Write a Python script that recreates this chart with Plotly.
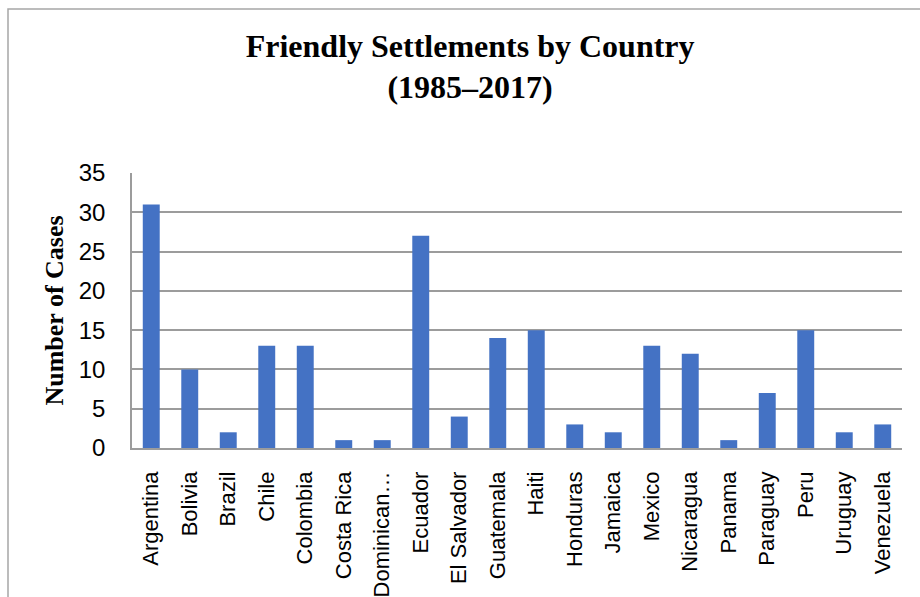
import plotly.graph_objects as go

countries = ["Argentina", "Bolivia", "Brazil", "Chile", "Colombia", "Costa Rica",
             "Dominican…", "Ecuador", "El Salvador", "Guatemala", "Haiti", "Honduras",
             "Jamaica", "Mexico", "Nicaragua", "Panama", "Paraguay", "Peru",
             "Uruguay", "Venezuela"]
cases = [31, 10, 2, 13, 13, 1, 1, 27, 4, 14, 15, 3, 2, 13, 12, 1, 7, 15, 2, 3]
y_ticks = [0, 5, 10, 15, 20, 25, 30, 35]

W, H = 920, 597
ML, MR, MT, MB = 132, 18, 173, 149
pw, ph = W - ML - MR, H - MT - MB

fig = go.Figure(go.Bar(
    x=countries, y=cases,
    marker=dict(color="#4472C4", line=dict(width=0)),
))

grid_c = "#9c9c9c"
fig.update_layout(
    width=W, height=H,
    margin=dict(l=ML, r=MR, t=MT, b=MB, pad=0),
    paper_bgcolor="white", plot_bgcolor="white",
    bargap=0.56,
    showlegend=False,
    title=dict(
        text="<b>Friendly Settlements by Country<br>(1985–2017)</b>",
        font=dict(family="Liberation Serif, Times New Roman, serif", size=32, color="black"),
        x=0.511, xref="container", xanchor="center",
        y=0.905, yref="container", yanchor="top",
    ),
    xaxis=dict(
        type="category",
        tickangle=-90,
        tickfont=dict(family="Liberation Sans, Arial, sans-serif", size=22, color="black"),
        ticks="", ticklabelstandoff=13,
        showline=True, linecolor=grid_c, linewidth=1.5,
        showgrid=False, automargin=False,
    ),
    yaxis=dict(
        range=[0, 35], tickvals=y_ticks,
        tickfont=dict(family="Liberation Sans, Arial, sans-serif", size=24, color="black"),
        ticks="", ticklabelstandoff=20,
        showline=True, linecolor=grid_c, linewidth=1.5,
        showgrid=True, gridcolor=grid_c, gridwidth=1.5,
        zeroline=False, automargin=False,
        title=dict(text="<b>Number of Cases</b>",
                   font=dict(family="Liberation Serif, Times New Roman, serif", size=26, color="black"),
                   standoff=8),
    ),
    shapes=[dict(
        type="rect", xref="paper", yref="paper",
        x0=(8 - ML) / pw, x1=1 + (MR + 60) / pw,
        y0=-(MB + 60) / ph, y1=1 + (MT - 9) / ph,
        line=dict(color="#a6a6a6", width=1.5), fillcolor="rgba(0,0,0,0)", layer="below",
    )],
)

fig.write_html("out.html")
